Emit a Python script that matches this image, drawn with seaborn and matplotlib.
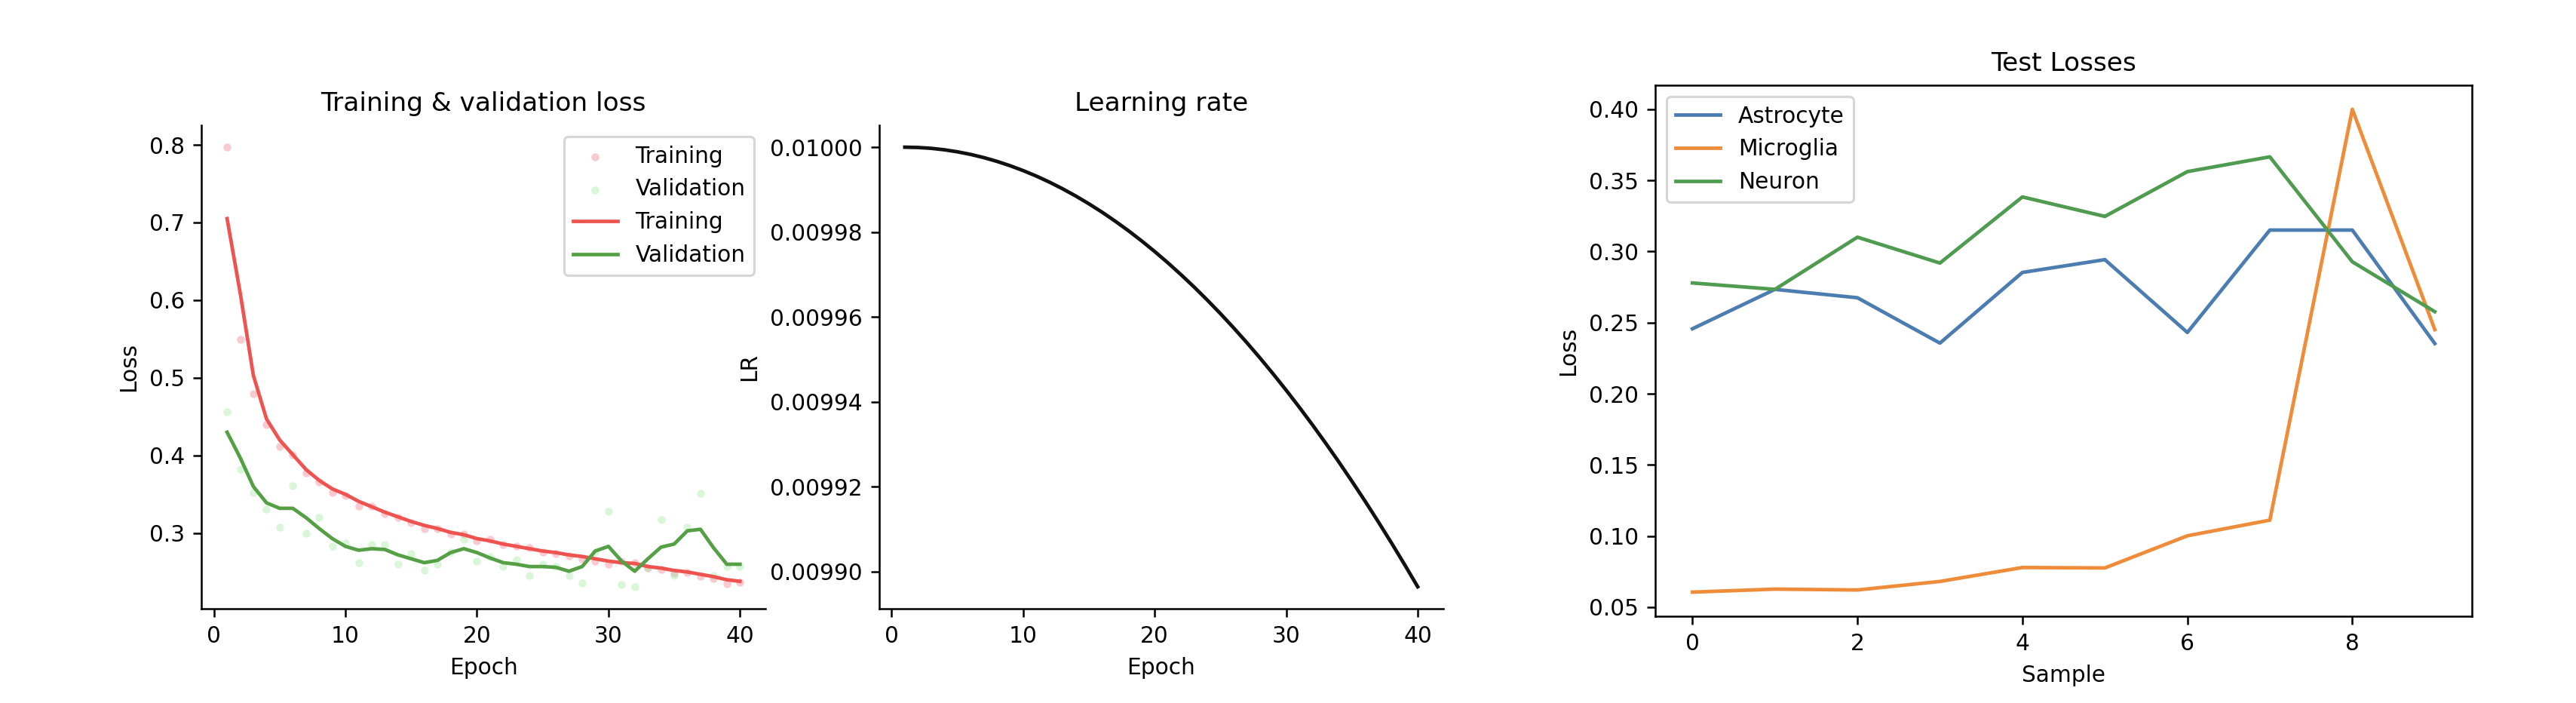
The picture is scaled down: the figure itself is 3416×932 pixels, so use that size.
import numpy as np
import pandas as pd
import matplotlib
matplotlib.use("Agg")
import matplotlib.pyplot as plt
from matplotlib.ticker import FormatStrFormatter
import seaborn as sns

# ---------------- data ----------------
epochs = list(range(1, 41))

train_raw = [0.797, 0.549, 0.480, 0.440, 0.412, 0.401, 0.378, 0.366, 0.352, 0.348,
             0.335, 0.335, 0.325, 0.320, 0.313, 0.306, 0.306, 0.299, 0.299, 0.290,
             0.292, 0.285, 0.283, 0.281, 0.276, 0.274, 0.271, 0.267, 0.264, 0.260,
             0.264, 0.262, 0.255, 0.253, 0.248, 0.249, 0.244, 0.242, 0.235, 0.237]

val_raw = [0.456, 0.382, 0.352, 0.331, 0.308, 0.361, 0.300, 0.320, 0.283, 0.287,
           0.262, 0.285, 0.285, 0.260, 0.274, 0.252, 0.260, 0.276, 0.292, 0.264,
           0.270, 0.257, 0.266, 0.245, 0.260, 0.257, 0.245, 0.236, 0.276, 0.328,
           0.234, 0.231, 0.255, 0.317, 0.245, 0.308, 0.351, 0.245, 0.257, 0.257]

train_smooth = [0.705, 0.609, 0.503, 0.447, 0.420, 0.401, 0.382, 0.368, 0.357, 0.350,
                0.341, 0.334, 0.327, 0.321, 0.315, 0.310, 0.306, 0.301, 0.298, 0.293,
                0.290, 0.286, 0.283, 0.280, 0.277, 0.275, 0.272, 0.270, 0.267, 0.264,
                0.262, 0.261, 0.257, 0.255, 0.252, 0.250, 0.247, 0.244, 0.240, 0.238]

val_smooth = [0.430, 0.397, 0.360, 0.339, 0.332, 0.332, 0.320, 0.306, 0.293, 0.283,
              0.278, 0.280, 0.279, 0.272, 0.267, 0.262, 0.265, 0.275, 0.280, 0.275,
              0.268, 0.262, 0.260, 0.257, 0.257, 0.256, 0.251, 0.257, 0.277, 0.283,
              0.264, 0.251, 0.267, 0.282, 0.286, 0.303, 0.305, 0.281, 0.260, 0.260]

learning_rate = [0.01000000, 0.00999993, 0.00999973, 0.00999939, 0.00999891,
                 0.00999830, 0.00999755, 0.00999666, 0.00999564, 0.00999448,
                 0.00999319, 0.00999176, 0.00999019, 0.00998849, 0.00998665,
                 0.00998468, 0.00998256, 0.00998032, 0.00997793, 0.00997541,
                 0.00997276, 0.00996996, 0.00996704, 0.00996397, 0.00996077,
                 0.00995743, 0.00995396, 0.00995035, 0.00994660, 0.00994272,
                 0.00993870, 0.00993455, 0.00993025, 0.00992583, 0.00992126,
                 0.00991657, 0.00991173, 0.00990676, 0.00990165, 0.00989640]

samples = list(range(10))
astrocyte = [0.2457, 0.2734, 0.2675, 0.2356, 0.2853, 0.2943, 0.2431, 0.3151, 0.3151, 0.2353]
microglia = [0.0605, 0.0626, 0.0620, 0.0680, 0.0778, 0.0775, 0.1001, 0.1111, 0.4000, 0.2451]
neuron = [0.2779, 0.2734, 0.3101, 0.2919, 0.3384, 0.3247, 0.3562, 0.3666, 0.2928, 0.2577]
cell_types = ["Astrocyte", "Microglia", "Neuron"]

# ---------------- figure ----------------
DPI = 227
plt.rcParams['font.family'] = ['DejaVu Sans']
plt.rcParams['xtick.labelsize'] = 9.4
plt.rcParams['ytick.labelsize'] = 9.4
plt.rcParams['axes.labelsize'] = 9.4
plt.rcParams['axes.titlesize'] = 10.9
plt.rcParams['legend.fontsize'] = 9.4
fig = plt.figure(figsize=(3416 / DPI, 932 / DPI), dpi=DPI)

ax1 = fig.add_axes([0.0782, 0.1341, 0.2190, 0.6878])
ax2 = fig.add_axes([0.3413, 0.1341, 0.2190, 0.6878])
ax3 = fig.add_axes([0.6426, 0.1234, 0.3170, 0.7554])

df_loss = pd.DataFrame({"Epoch": epochs, "train_raw": train_raw, "val_raw": val_raw,
                        "train_smooth": train_smooth, "val_smooth": val_smooth,
                        "LR": learning_rate})

# Panel 1: training & validation loss
sns.scatterplot(data=df_loss, x="Epoch", y="train_raw", ax=ax1, color="#f07f8c",
                alpha=0.4, s=11, linewidth=0, marker="o", label="Training")
sns.scatterplot(data=df_loss, x="Epoch", y="val_raw", ax=ax1, color="#a0eaa0",
                alpha=0.4, s=11, linewidth=0, marker="o", label="Validation")
sns.lineplot(data=df_loss, x="Epoch", y="train_smooth", ax=ax1, color="#ef5350",
             linewidth=1.5, label="Training")
sns.lineplot(data=df_loss, x="Epoch", y="val_smooth", ax=ax1, color="#55a045",
             linewidth=1.5, label="Validation")
ax1.set_title("Training & validation loss")
ax1.set_xlabel("Epoch")
ax1.set_ylabel("Loss")
ax1.set_xticks([0, 10, 20, 30, 40])
ax1.set_yticks([0.3, 0.4, 0.5, 0.6, 0.7, 0.8])
ax1.legend(loc="upper right")
sns.despine(ax=ax1)

# Panel 2: learning rate
sns.lineplot(data=df_loss, x="Epoch", y="LR", ax=ax2, color="#111111", linewidth=1.5)
ax2.set_title("Learning rate")
ax2.set_xlabel("Epoch")
ax2.set_ylabel("LR")
ax2.set_xticks([0, 10, 20, 30, 40])
ax2.set_yticks([0.0099, 0.00992, 0.00994, 0.00996, 0.00998, 0.01])
ax2.yaxis.set_major_formatter(FormatStrFormatter("%.5f"))
sns.despine(ax=ax2)

# Panel 3: test losses
df_test = pd.DataFrame({"Sample": samples * 3,
                        "Loss": astrocyte + microglia + neuron,
                        "Cell": [c for c in cell_types for _ in samples]})
sns.lineplot(data=df_test, x="Sample", y="Loss", hue="Cell", ax=ax3,
             palette=["#4c7db0", "#ee8c3a", "#4f9b4f"], linewidth=1.5)
ax3.set_title("Test Losses")
ax3.set_xlabel("Sample")
ax3.set_ylabel("Loss")
ax3.set_xticks([0, 2, 4, 6, 8])
ax3.set_yticks([0.05, 0.10, 0.15, 0.20, 0.25, 0.30, 0.35, 0.40])
ax3.yaxis.set_major_formatter(FormatStrFormatter("%.2f"))
ax3.legend(loc="upper left", title=None)

fig.savefig("out.png", dpi=DPI)
